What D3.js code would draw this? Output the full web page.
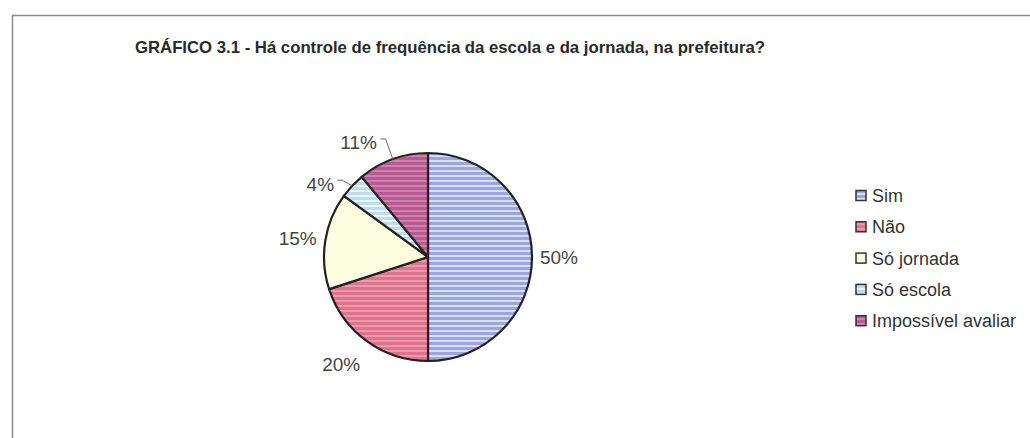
<!DOCTYPE html>
<html><head><meta charset="utf-8">
<script src="https://cdn.jsdelivr.net/npm/d3@7"></script>
<style>body{margin:0;background:#fff}svg{display:block}</style>
</head><body>
<svg id="c" width="1030" height="438"></svg>
<script>
const categories = ["Sim", "Não", "Só jornada", "Só escola", "Impossível avaliar"];
const values = [50, 20, 15, 4, 11];
const labels = ["50%", "20%", "15%", "4%", "11%"];
const title = "GRÁFICO 3.1 - Há controle de frequência da escola e da jornada, na prefeitura?";

const baseColors = ["#9ba5de", "#e0728c", "#fdfde0", "#b9dcf1", "#b75a91"];
const stripeColors = ["#dadef5", "#eb9aac", "#fdfde0", "#eef7fd", "#cc82ad"];

const svg = d3.select("#c");
// frame
svg.append("path").attr("d", "M12.5,438 V15.5 H1030").attr("fill", "none")
  .attr("stroke", "#8a8a8a").attr("stroke-width", 1.5);

// patterns
const defs = svg.append("defs");
categories.forEach((c, i) => {
  const p = defs.append("pattern").attr("id", "p" + i).attr("patternUnits", "userSpaceOnUse")
    .attr("width", 8).attr("height", 5);
  p.append("rect").attr("width", 8).attr("height", 5).attr("fill", baseColors[i]);
  p.append("rect").attr("y", 3).attr("width", 8).attr("height", 2).attr("fill", stripeColors[i]);
});

svg.append("text").attr("x", 450).attr("y", 53).attr("text-anchor", "middle")
  .attr("font-family", "Liberation Sans, Arial, sans-serif").attr("font-weight", "bold")
  .attr("font-size", 17).attr("fill", "#2a2a2a")
  .attr("textLength", 630).attr("lengthAdjust", "spacingAndGlyphs").text(title);

const cx = 428, cy = 257, r = 104;
const pie = d3.pie().sort(null).value(d => d)(values);
const arc = d3.arc().innerRadius(0).outerRadius(r);
const g = svg.append("g").attr("transform", `translate(${cx},${cy})`);
g.selectAll("path").data(pie).join("path").attr("d", arc)
  .attr("fill", (d, i) => `url(#p${i})`).attr("stroke", "#222").attr("stroke-width", 2.2)
  .attr("stroke-linejoin", "round");

// labels
const labelArc = d3.arc().innerRadius(r + 30).outerRadius(r + 30);
const labelOffsets = [[-3, 0], [-8, -1], [2, 2], [-10, 19], [-24, 12]];
const halfW = [20, 20, 20, 15, 20];
const lab = svg.append("g").attr("font-family", "Liberation Sans, Arial, sans-serif")
  .attr("font-size", 19).attr("fill", "#444");
const pos = pie.map((d, i) => {
  const [x, y] = labelArc.centroid(d);
  return [cx + x + labelOffsets[i][0], cy + y + labelOffsets[i][1]];
});
pie.forEach((d, i) => {
  lab.append("text").attr("x", pos[i][0]).attr("y", pos[i][1])
    .attr("text-anchor", "middle").attr("dominant-baseline", "central").text(labels[i]);
});

// leader lines for small slices
const leader = svg.append("g").attr("fill", "none").attr("stroke", "#666").attr("stroke-width", 1);
[3, 4].forEach(i => {
  const d = pie[i];
  const mid = (d.startAngle + d.endAngle) / 2;
  const ex = cx + r * Math.sin(mid), ey = cy - r * Math.cos(mid);
  const [tx, ty] = pos[i];
  const sx = tx + halfW[i] + 2;
  leader.append("path").attr("d", `M${sx},${ty - 4} H${sx + 5} L${ex},${ey}`);
});

// legend
const leg = svg.append("g").attr("font-family", "Liberation Sans, Arial, sans-serif")
  .attr("font-size", 18).attr("fill", "#333");
categories.forEach((c, i) => {
  const y = 196 + i * 31.3;
  leg.append("rect").attr("x", 856).attr("y", y - 5.5).attr("width", 10).attr("height", 10)
    .attr("fill", `url(#p${i})`).attr("stroke", "#333").attr("stroke-width", 1.5);
  leg.append("text").attr("x", 872).attr("y", y).attr("dominant-baseline", "central").text(c);
});
</script>
</body></html>
